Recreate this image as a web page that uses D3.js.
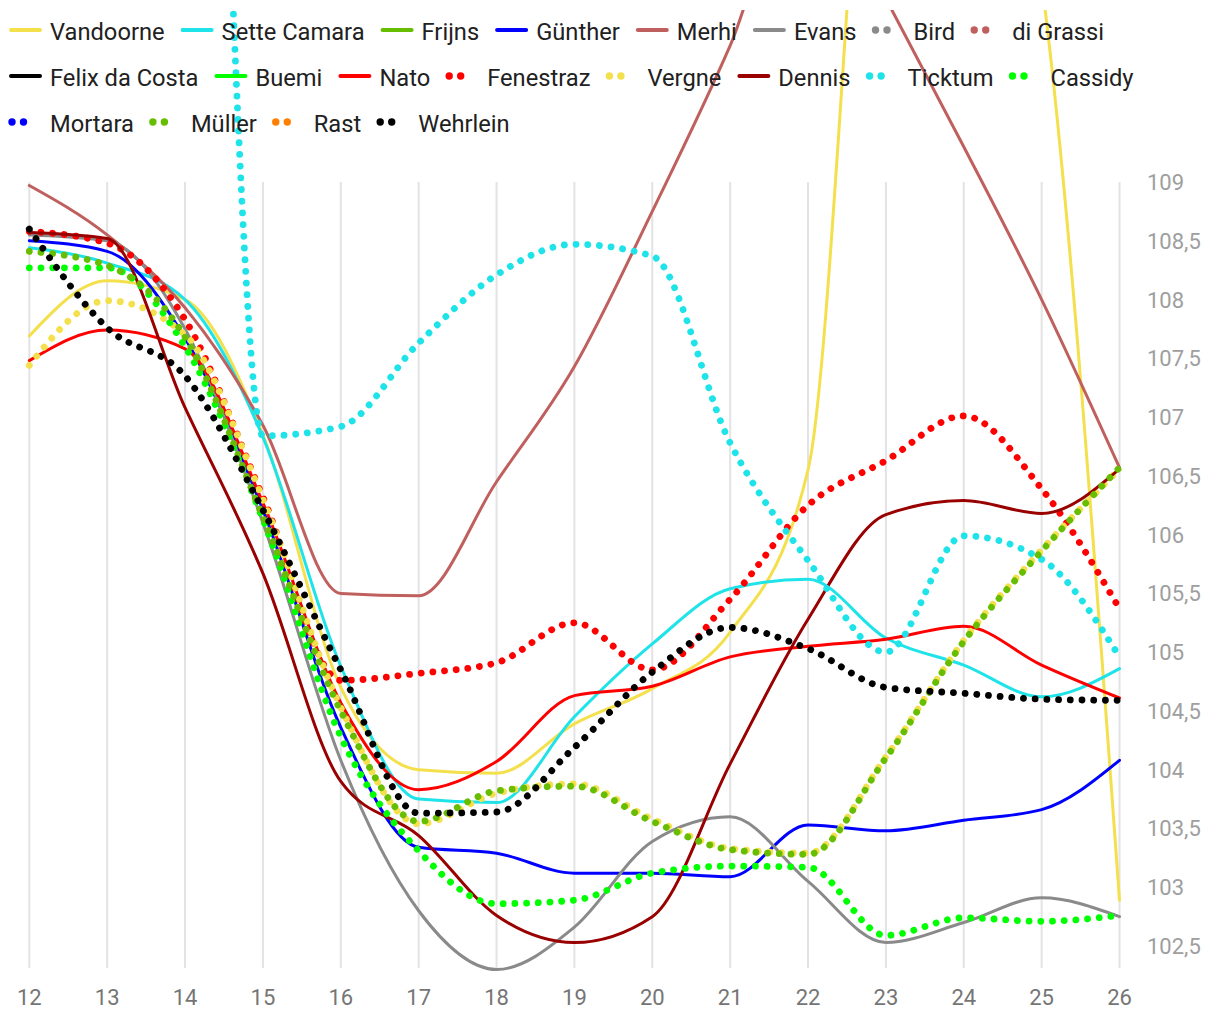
<!DOCTYPE html>
<html><head><meta charset="utf-8">
<script src="https://cdn.jsdelivr.net/npm/d3@7"></script>
<style>body{margin:0;background:#fff} svg{display:block;font-family:Roboto, "Noto Sans", sans-serif}</style>
</head><body><svg id="c" width="1220" height="1020"></svg>
<script>
const laps = [12,13,14,15,16,17,18,19,20,21,22,23,24,25,26];
const yTicks = [102.5,103,103.5,104,104.5,105,105.5,106,106.5,107,107.5,108,108.5,109];

const vandoorne   = [107.69,108.16,108.0,106.85,104.7,104.0,103.97,104.39,104.69,105.17,106.55,113.7,113.2,110.7,102.89];
const setteCamara = [108.44,108.31,108.0,106.83,104.88,103.75,103.72,104.45,105.07,105.54,105.62,105.12,104.89,104.62,104.86];
const frijns      = [];
const gunther     = [108.5,108.41,107.67,106.21,104.36,103.34,103.29,103.12,103.12,103.09,103.53,103.48,103.57,103.66,104.08];
const merhi       = [108.97,108.55,107.93,106.93,105.5,105.48,106.45,107.43,108.75,110.16,111.8,110.56,109.3,108.0,106.57];
const evans       = [108.55,108.5,107.75,106.1,104.08,102.8,102.3,102.66,103.39,103.6,103.05,102.53,102.7,102.91,102.75];
const bird        = [];
const diGrassi    = [];
const felixDaCosta= [];
const buemi       = [];
const nato        = [107.48,107.74,107.58,106.27,104.57,103.83,104.07,104.63,104.71,104.96,105.05,105.11,105.22,104.89,104.61];
const fenestraz   = [108.58,108.48,107.83,106.32,104.76,104.82,104.91,105.25,104.85,105.45,106.25,106.63,107.01,106.39,105.37];
const vergne      = [107.44,107.99,107.7,106.3,104.53,103.54,103.8,103.88,103.58,103.33,103.29,104.11,105.1,105.87,106.56];
const dennis      = [108.57,108.52,107.08,105.67,103.9,103.44,102.76,102.53,102.75,104.05,105.28,106.17,106.29,106.18,106.56];
const ticktum     = [117,117.5,118,106.84,106.92,107.63,108.21,108.47,108.37,106.78,105.78,105.0,105.99,105.79,104.96];
const cassidy     = [108.27,108.27,107.6,106.13,104.28,103.31,102.86,102.89,103.12,103.18,103.17,102.59,102.74,102.71,102.76];
const mortara     = [];
const muller      = [108.41,108.29,107.68,106.15,104.5,103.56,103.82,103.86,103.56,103.32,103.28,104.1,105.09,105.86,106.57];
const rast        = [];
const wehrlein    = [108.6,107.76,107.35,106.21,104.85,103.63,103.64,104.19,104.83,105.21,105.03,104.7,104.65,104.6,104.59];

const names  = ["Vandoorne","Sette Camara","Frijns","Günther","Merhi","Evans","Bird","di Grassi","Felix da Costa","Buemi","Nato","Fenestraz","Vergne","Dennis","Ticktum","Cassidy","Mortara","Müller","Rast","Wehrlein"];
const seriesValues = [vandoorne,setteCamara,frijns,gunther,merhi,evans,bird,diGrassi,felixDaCosta,buemi,nato,fenestraz,vergne,dennis,ticktum,cassidy,mortara,muller,rast,wehrlein];
const colors = ["#f4e04d","#1ee3e8","#67bd00","#0000ff","#c0605e","#8a8a8a","#8a8a8a","#c0605e","#000000","#00ff00","#ff0000","#ff0000","#f4e04d","#990000","#1ee3e8","#00ff00","#0000ff","#67bd00","#ff8000","#000000"];
const dotted = [false,false,false,false,false,false,true,true,false,false,false,true,true,false,true,true,true,true,true,true];

const svg = d3.select("#c");
const x = d3.scaleLinear().domain([12,26]).range([29.3,1119.5]);
const y = d3.scaleLinear().domain([102.313,109]).range([968,182]);

// vertical gridlines
svg.append("g").selectAll("line").data(laps).join("line")
  .attr("x1",d=>x(d)).attr("x2",d=>x(d)).attr("y1",y(109)).attr("y2",968)
  .attr("stroke","#e3e3e3").attr("stroke-width",2);

// x labels
svg.append("g").selectAll("text").data(laps).join("text")
  .attr("x",d=>x(d)).attr("y",1005).attr("text-anchor","middle")
  .attr("font-size",22).attr("fill","#757575").text(d=>d);

// y labels
svg.append("g").selectAll("text").data(yTicks).join("text")
  .attr("x",1147).attr("y",d=>y(d)+8).attr("text-anchor","start")
  .attr("font-size",22).attr("fill","#9e9e9e").text(d=>String(d).replace(".",","));

svg.append("clipPath").attr("id","clip").append("rect")
  .attr("x",0).attr("y",10).attr("width",1220).attr("height",1010);

const line = d3.line().defined(d=>d.v!=null).x(d=>x(d.lap)).y(d=>y(d.v)).curve(d3.curveMonotoneX);
const gl = svg.append("g").attr("clip-path","url(#clip)");
seriesValues.forEach((vals,i)=>{
  const pts = laps.map((l,j)=>({lap:l,v:vals[j]==null?null:vals[j]}));
  if (!pts.some(p=>p.v!=null)) return;
  const p = gl.append("path").attr("d",line(pts)).attr("fill","none")
    .attr("stroke",colors[i]).attr("stroke-linecap","round").attr("stroke-linejoin","round");
  if (dotted[i]) p.attr("stroke-width",6.8).attr("stroke-dasharray","0.01 11.7");
  else p.attr("stroke-width",3);
});

// legend
const lg = svg.append("g");
let cx = 10, row = 0;
names.forEach((n,i)=>{
  const t = lg.append("text").attr("font-size",23.7).attr("fill","#212121").text(n);
  const tw = t.node().getComputedTextLength();
  if (cx + 40 + tw > 1170 && cx > 10) { cx = 10; row++; }
  const base = 40 + row*46;
  t.attr("x",cx+40).attr("y",base);
  if (dotted[i]) {
    [2,13.5].forEach(o=>lg.append("circle").attr("cx",cx+o).attr("cy",base-10).attr("r",3.7).attr("fill",colors[i]));
  } else {
    lg.append("line").attr("x1",cx+1).attr("x2",cx+30).attr("y1",base-10).attr("y2",base-10)
      .attr("stroke",colors[i]).attr("stroke-width",4).attr("stroke-linecap","round");
  }
  cx += 40 + tw + 17;
});
</script></body></html>
